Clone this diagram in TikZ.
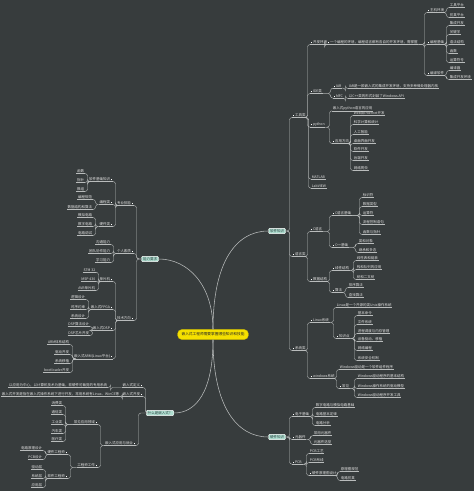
\documentclass[tikz,border=0pt]{standalone}
\usepackage{fontspec}
\setmainfont{Noto Sans CJK SC}
\usetikzlibrary{calc}
\definecolor{bgc}{RGB}{55,60,61}
\definecolor{lnc}{RGB}{185,188,188}
\definecolor{txc}{RGB}{225,225,225}
\definecolor{tealf}{RGB}{175,222,208}
\definecolor{tealt}{RGB}{40,62,62}
\definecolor{yel}{RGB}{245,224,0}
\newcommand\tf{\fontsize{3.5}{4}\selectfont}
\newcommand\mksq{\textcolor{white}{\rule{1.4pt}{1.4pt}}}
\newcommand\rcon[2]{\draw[ln] (#1) -| ($(#2.south west)+(-2.5,0)$) -- (#2.south west);}
\newcommand\lcon[2]{\draw[ln] (#1) -| ($(#2.south east)+(2.5,0)$) -- (#2.south east);}
\newcommand\rleaves[3]{\foreach \yy/\lt [count=\i] in {#3}{\node[rl] (#1-\i) at (#2,\yy) {\lt}; \rcon{#1.south east}{#1-\i}}}
\newcommand\lleaves[3]{\foreach \yy/\lt [count=\i] in {#3}{\node[ll] (#1-\i) at (#2,\yy) {\lt}; \lcon{#1.south west}{#1-\i}}}
\begin{document}
\begin{tikzpicture}[x=1pt,y=-1pt,
 ln/.style={draw=lnc,line width=0.4pt,rounded corners=2.5pt},
 tn/.style={text=txc,font=\tf,inner xsep=0.6pt,inner ysep=0.7pt,append after command={(\tikzlastnode.south west) edge[ln] (\tikzlastnode.south east)}},
 rl/.style={tn,anchor=west},
 rb/.style={rl,execute at begin node={\mksq\hspace{0.8pt}}},
 ll/.style={tn,anchor=east},
 lb/.style={ll,execute at end node={\hspace{0.8pt}\mksq}},
 tb/.style={fill=tealf,draw=white,line width=0.35pt,rounded corners=1pt,text=tealt,font=\tf,inner xsep=1.5pt,inner ysep=1pt},
 cn/.style={fill=yel,draw=yel!80!black,line width=0.3pt,rounded corners=4.3pt,text=black!85,font=\fontsize{3.7}{4}\selectfont,inner xsep=4pt,minimum height=8.6pt}]
\fill[bgc] (0,0) rectangle (474,491);
\useasboundingbox (0,0) rectangle (474,491);

% centre and main branches
\node[cn] (C) at (213,334.5) {嵌入式工程师需要掌握哪些知识和技能};
\node[tb] (R1) at (277,231) {软件知识};
\node[tb] (R2) at (277,437) {硬件知识};
\node[tb] (L1) at (150,259) {能力要求};
\node[tb] (L2) at (160,413) {什么是嵌入式？};
\draw[ln,line width=0.55pt] (C.north) .. controls (213,262) and (236,231) .. (R1.west);
\draw[ln,line width=0.55pt] (C.north) .. controls (213,285) and (188,259) .. (L1.east);
\draw[ln,line width=0.55pt] (C.south) .. controls (213,405) and (236,437) .. (R2.west);
\draw[ln,line width=0.55pt] (C.south) .. controls (213,392) and (196,413) .. (L2.east);

% ===== right upper: 软件知识 =====
\node[rb] (A) at (292,115) {工具类};
\node[rb] (B) at (292,254) {语言类};
\node[rb] (S) at (292,348) {系统类};
\foreach \c in {A,B,S} {\rcon{R1.east}{\c}}

\node[rb] (A1) at (310,42) {开发环境};
\node[rb] (A2) at (310,91) {IDE类};
\node[rb] (A3) at (310,124.5) {python};
\node[rl] (A4) at (311,177) {MATLAB};
\node[rl] (A5) at (311,186) {LabVIEW};
\foreach \c in {A1,A2,A3,A4,A5} {\rcon{A.south east}{\c}}

\node[rb] (A1a) at (327,42) {一个编程的环境，编程语言都有各自的开发环境，需掌握};
\rcon{A1.south east}{A1a}
\node[rb] (A1x) at (427,10) {主机环境};
\node[rb] (A1y) at (427,42) {编程基础};
\node[rb] (A1z) at (427,73) {编译软件};
\foreach \c in {A1x,A1y,A1z} {\rcon{A1a.south east}{\c}}
\rleaves{A1x}{449}{5/工具平台,15/仿真平台}
\rleaves{A1y}{449}{23/集成开发,32/关键字,42/语法结构,51/函数,60/运算符号}
\rleaves{A1z}{449}{68/编译器,77/集成开发环境}

\node[rb] (A2a) at (333,86) {IAR};
\node[rb] (A2b) at (333,96) {MFC};
\rcon{A2.south east}{A2a}
\rcon{A2.south east}{A2b}
\node[rl] (A2c) at (348,86) {IAR是一款嵌入式的集成开发环境，支持多种微处理器内核};
\node[rl] (A2d) at (348,96) {以C++类的形式封装了Windows API};
\rcon{A2a.south east}{A2c}
\rcon{A2b.south east}{A2d}

\node[rl] (A3a) at (332,108) {嵌入式python语言的应用};
\node[rb] (A3b) at (332,141) {应用方向};
\rcon{A3.south east}{A3a}
\rcon{A3.south east}{A3b}
\rleaves{A3b}{353}{113/Web及Internet开发,122/科学计算和统计,132/人工智能,141/桌面界面开发,149/软件开发,158/后端开发,168/网络爬虫}

\node[rb] (B1) at (310,229) {C语言};
\node[rb] (B2) at (310,279) {数据结构};
\rcon{B.south east}{B1}
\rcon{B.south east}{B2}
\node[rb] (B1a) at (332,213) {C语言基础};
\node[rb] (B1b) at (332,245) {C++基础};
\rcon{B1.south east}{B1a}
\rcon{B1.south east}{B1b}
\rleaves{B1a}{362}{195/标识符,204/数据类型,213/运算符,222/流程控制语句,232/函数与指针}
\rleaves{B1b}{358}{241/类和对象,250/继承和多态}
\node[rb] (B2a) at (332,268) {线性结构};
\node[rb] (B2b) at (332,290) {算法};
\rcon{B2.south east}{B2a}
\rcon{B2.south east}{B2b}
\rleaves{B2a}{356}{258/线性表和链表,267/栈和队列的应用,277/树和二叉树}
\rleaves{B2b}{348}{285/排序算法,295/查找算法}

\node[rb] (S1) at (310,320) {Linux系统};
\node[rb] (S2) at (310,376) {windows系统};
\rcon{S.south east}{S1}
\rcon{S.south east}{S2}
\node[rl] (S1a) at (336,305) {Linux是一个开源的类Unix操作系统};
\node[rb] (S1b) at (336,336) {知识点};
\rcon{S1.south east}{S1a}
\rcon{S1.south east}{S1b}
\rleaves{S1b}{357}{313/基本命令,322/文件系统,331/进程调度与内存管理,339/设备驱动、移植,348/网络编程,358/系统安全机制}
\node[rl] (S2a) at (339,367) {Windows驱动是一个软件组件程序};
\node[rb] (S2b) at (339,386) {常见};
\rcon{S2.south east}{S2a}
\rcon{S2.south east}{S2b}
\rleaves{S2b}{357}{376/Windows驱动程序的基本结构,386/Windows操作系统的驱动模型,395/Windows驱动程序开发工具}

% ===== right lower: 硬件知识 =====
\node[rb] (D1) at (292,414) {电子基础};
\node[rb] (D2) at (292,437) {元器件};
\node[rb] (D3) at (292,462) {PCB};
\foreach \c in {D1,D2,D3} {\rcon{R2.east}{\c}}
\rleaves{D1}{315}{405/数字电路与模拟电路基础,414/电路基本定律,423/电路分析}
\rleaves{D2}{313}{433/常用元器件,442/元器件选型}
\node[rl] (D3a) at (309,451) {PCB工艺};
\node[rl] (D3b) at (309,460) {PCB布线};
\node[rb] (D3c) at (309,473) {硬件原理图设计};
\foreach \c in {D3a,D3b,D3c} {\rcon{D3.south east}{\c}}
\rleaves{D3c}{340}{469/原理图规范,478/电路仿真}

% ===== left upper: 能力要求 =====
\node[lb] (E1) at (134,203) {专业技能};
\node[lb] (E2) at (134,251) {个人素质};
\node[lb] (E3) at (134,318) {技术方向};
\foreach \c in {E1,E2,E3} {\lcon{L1.west}{\c}}
\node[lb] (E1a) at (113,179) {软件基础知识};
\node[lb] (E1b) at (113,202) {编程类};
\node[lb] (E1c) at (113,224) {硬件类};
\foreach \c in {E1a,E1b,E1c} {\lcon{E1.south west}{\c}}
\lleaves{E1a}{85}{171/函数,180/指针,189/数组}
\lleaves{E1b}{93}{197/编程规范,207/数据结构和算法}
\lleaves{E1c}{93}{215/模拟电路,224/数字电路,233/电路调试}
\lleaves{E2}{111}{242/沟通能力,251/团队协作能力,260/学习能力}
\node[lb] (E3a) at (113,279) {单片机};
\node[lb] (E3b) at (113,307) {嵌入式FPGA};
\node[lb] (E3c) at (113,328) {嵌入式DSP};
\node[lb] (E3d) at (113,356) {嵌入式ARM(Linux平台)};
\foreach \c in {E3a,E3b,E3c,E3d} {\lcon{E3.south west}{\c}}
\lleaves{E3a}{96}{270/STM 32,279/MSP 430,288/AVR单片机}
\lleaves{E3b}{86}{297/逻辑设计,307/时序约束,316/系统设计}
\lleaves{E3c}{90}{324/DSP算法设计,333/DSP芯片开发}
\lleaves{E3d}{70}{342/ARM体系结构,352/驱动开发,361/系统移植,370/bootloader开发}

% ===== left lower: 什么是嵌入式 =====
\node[lb] (F1) at (143,385) {嵌入式定义};
\node[lb] (F2) at (143,394) {嵌入式开发};
\node[lb] (F3) at (136,443) {嵌入式应用与就业};
\foreach \c in {F1,F2,F3} {\lcon{L2.west}{\c}}
\node[ll] (F1a) at (108,385) {以应用为中心，以计算机技术为基础，软硬件可裁剪的专用系统};
\node[ll] (F2a) at (120,394) {嵌入式开发是指在嵌入式操作系统下进行开发，常用系统有Linux、WinCE等};
\lcon{F1.south west}{F1a}
\lcon{F2.south west}{F2a}
\node[lb] (F3a) at (98,422) {常见应用领域};
\node[lb] (F3b) at (98,465) {工程师工作};
\lcon{F3.south west}{F3a}
\lcon{F3.south west}{F3b}
\lleaves{F3a}{63}{403/消费类,412/通信类,422/工业类,431/汽车类,439/医疗类}
\node[lb] (F3b1) at (68,452) {硬件工程师};
\node[lb] (F3b2) at (68,476) {软件工程师};
\lcon{F3b.south west}{F3b1}
\lcon{F3b.south west}{F3b2}
\lleaves{F3b1}{43}{448/电路原理设计,457/PCB设计}
\lleaves{F3b2}{43}{467/驱动层,476/系统层,485/应用层}
\end{tikzpicture}
\end{document}
